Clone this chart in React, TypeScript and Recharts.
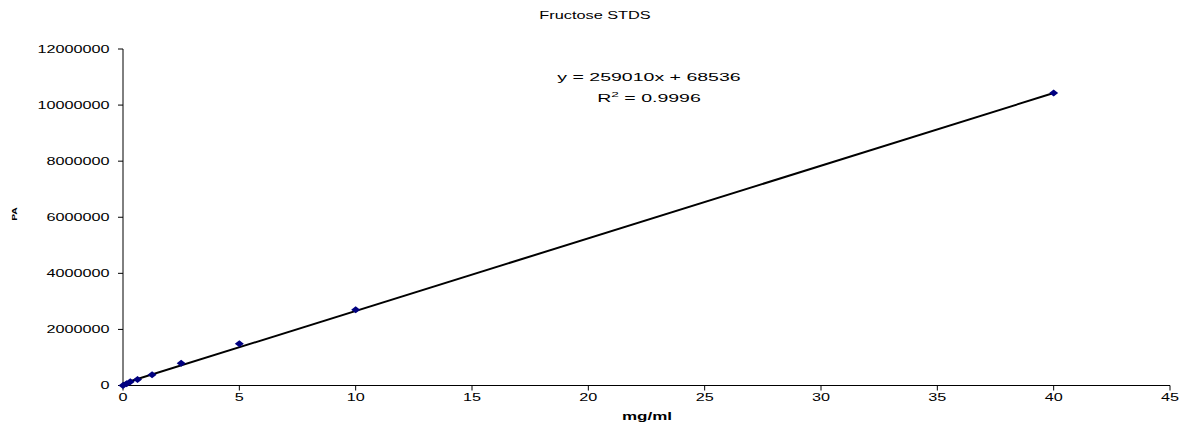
import { ScatterChart, Scatter, XAxis, YAxis } from 'recharts'

// Fructose standards: concentration (mg/ml) vs peak area
const concentrations = [0, 0.156, 0.3125, 0.625, 1.25, 2.5, 5, 10, 40]
const peakAreas = [0, 60000, 130000, 210000, 380000, 790000, 1485000, 2700000, 10430000]

// linear trendline endpoints, read from y = 259010x + 68536
const trendX = [0, 40]
const trendY = [68536, 10428936]

const xTicks = [0, 5, 10, 15, 20, 25, 30, 35, 40, 45]
const yTicks = [0, 2000000, 4000000, 6000000, 8000000, 10000000, 12000000]

const points = concentrations.map((x, i) => ({ x, y: peakAreas[i] }))
const trend = trendX.map((x, i) => ({ x, y: trendY[i] }))

const FONT = '"Liberation Sans", Arial, Helvetica, sans-serif'
const SX = 1.62

const XTick = ({ x, y, payload }: any) => (
  <g transform={`translate(${x},${y})`}>
    <text transform={`scale(${SX},1)`} y={8} textAnchor="middle" fontSize={10} fontFamily={FONT} fill="#000">
      {payload.value}
    </text>
  </g>
)

const YTick = ({ x, y, payload }: any) => (
  <g transform={`translate(${x},${y})`}>
    <text transform={`scale(${SX},1)`} x={-4} y={3.5} textAnchor="end" fontSize={10} fontFamily={FONT} fill="#000">
      {payload.value}
    </text>
  </g>
)

const Diamond = ({ cx, cy }: any) => (
  <polygon
    points={`${cx - 4.5},${cy} ${cx},${cy - 3.5} ${cx + 4.5},${cy} ${cx},${cy + 3.5}`}
    fill="#000080"
  />
)

const overlay = (left: number, top: number, scale: number, extra: any = {}) => ({
  position: 'absolute' as const,
  left,
  top,
  transform: `translate(-50%, -50%) scaleX(${scale})`,
  fontFamily: FONT,
  fontSize: 10,
  color: '#000',
  whiteSpace: 'nowrap' as const,
  lineHeight: 1,
  ...extra,
})

export default function App() {
  return (
    <div style={{ position: 'absolute', left: 0, top: 0, width: 1191, height: 430, background: '#fff' }}>
      <ScatterChart width={1191} height={430} margin={{ top: 49, right: 21, bottom: 0, left: 0 }}>
        <XAxis
          type="number"
          dataKey="x"
          domain={[0, 45]}
          ticks={xTicks}
          interval={0}
          height={44.5}
          axisLine={{ stroke: '#000', strokeWidth: 1 }}
          tickLine={{ stroke: '#000', strokeWidth: 1 }}
          tickSize={5}
          tick={<XTick />}
        />
        <YAxis
          type="number"
          dataKey="y"
          domain={[0, 12000000]}
          ticks={yTicks}
          interval={0}
          width={123}
          axisLine={{ stroke: '#000', strokeWidth: 1 }}
          tickLine={{ stroke: '#000', strokeWidth: 1 }}
          tickSize={5}
          tick={<YTick />}
        />
        <Scatter
          data={trend}
          line={{ stroke: '#000', strokeWidth: 2 }}
          shape={() => <g />}
          isAnimationActive={false}
        />
        <Scatter data={points} shape={<Diamond />} isAnimationActive={false} />
      </ScatterChart>
      <div style={overlay(595, 16, 1.63)}>Fructose STDS</div>
      <div style={overlay(647, 417, 1.7, { fontWeight: 'bold' })}>mg/ml</div>
      <div style={overlay(15, 214, 1, { fontWeight: 'bold', fontSize: 8, transform: 'translate(-50%, -50%) rotate(-90deg) scaleX(1.3)' })}>
        PA
      </div>
      <div style={overlay(649, 78, 1.95)}>y = 259010x + 68536</div>
      <div style={overlay(649, 99, 1.95)}>
        R<sup style={{ fontSize: 7, verticalAlign: 5, lineHeight: 0 }}>2</sup> = 0.9996
      </div>
    </div>
  )
}
